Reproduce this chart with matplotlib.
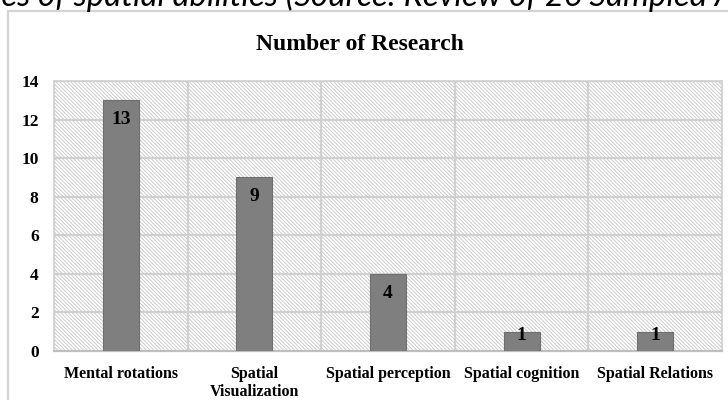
import matplotlib
matplotlib.use("Agg")
import matplotlib.pyplot as plt
from matplotlib.patches import Rectangle

categories = ["Mental rotations", "Spatial\nVisualization", "Spatial perception",
              "Spatial cognition", "Spatial Relations"]
values = [13, 9, 4, 1, 1]
yticks = [0, 2, 4, 6, 8, 10, 12, 14]
title = "Number of Research"
caption = "Types of spatial abilities (Source: Review of 26 Sampled Articles)"
caption_visible = "es of spatial abilities (Source: Review of 26 Sampled A"

W, H = 728, 400
fig = plt.figure(figsize=(W / 100, H / 100), dpi=100)
serif = "Liberation Serif"

# outer chart frame
fig.patches.append(Rectangle((8 / W, -0.1), 1.2, 0.1 + 1 - 11 / H, transform=fig.transFigure,
                             fill=False, edgecolor="#d4d4d4", linewidth=1.6))

# caption cropped at top
renderer = fig.canvas.get_renderer()
probe = fig.text(0, 0, caption_visible, fontsize=20, style="italic", family="Lato")
wv = probe.get_window_extent(renderer).width
probe.remove()
fs = 20 * 732 / wv
probe = fig.text(0, 0, "Typ", fontsize=fs, style="italic", family="Lato")
wp = probe.get_window_extent(renderer).width
probe.remove()
fig.text(-(wp - 1) / W, 1 - 6 / H, caption, fontsize=fs, style="italic", family="Lato",
         va="baseline", ha="left", color="black")

ax = fig.add_axes([54 / W, 49 / H, 668 / W, 270 / H])
n = len(categories)
x = list(range(n))
ax.set_xlim(-0.5, n - 0.5)
ax.set_ylim(0, 14)

# hatched plot background
plt.rcParams["hatch.linewidth"] = 0.6
bg = Rectangle((0, 0), 1, 1, transform=ax.transAxes, facecolor="white",
               edgecolor="#c6c6c6", hatch="\\" * 9, linewidth=0, zorder=0)
ax.add_patch(bg)
ax.set_facecolor("white")

for yv in yticks[1:]:
    ax.axhline(yv, color="#d0d0d0", linewidth=1.6, zorder=1)
for i in range(n + 1):
    ax.axvline(i - 0.5, color="#d0d0d0", linewidth=1.6, zorder=1)

bars = ax.bar(x, values, width=0.27, color="#7f7f7f", edgecolor="#6e6e6e",
              linewidth=0.8, zorder=3)

for xi, v in zip(x, values):
    off = -14 if v >= 2 else -2.5
    ax.annotate(str(v), (xi, v), xytext=(0, off), textcoords="offset points",
                ha="center", va="center", fontsize=14, fontweight="bold",
                family=serif, color="black", zorder=4)

for s in ["top", "right", "left"]:
    ax.spines[s].set_color("#d0d0d0")
    ax.spines[s].set_linewidth(1.2)
ax.spines["bottom"].set_color("#bfbfbf")
ax.spines["bottom"].set_linewidth(1.6)

ax.set_yticks(yticks)
ax.set_yticklabels([str(t) for t in yticks], fontsize=12.5, fontweight="bold", family=serif)
ax.set_xticks(x)
ax.set_xticklabels(categories, fontsize=11.5, fontweight="bold", family=serif,
                   linespacing=1.15, va="top")
ax.tick_params(axis="y", length=0, pad=11)
ax.tick_params(axis="x", length=0, pad=11)

fig.text(360 / W, 1 - 45 / H, title, fontsize=17, fontweight="bold",
         family=serif, ha="center", va="center")

fig.savefig("out.png", dpi=100)
